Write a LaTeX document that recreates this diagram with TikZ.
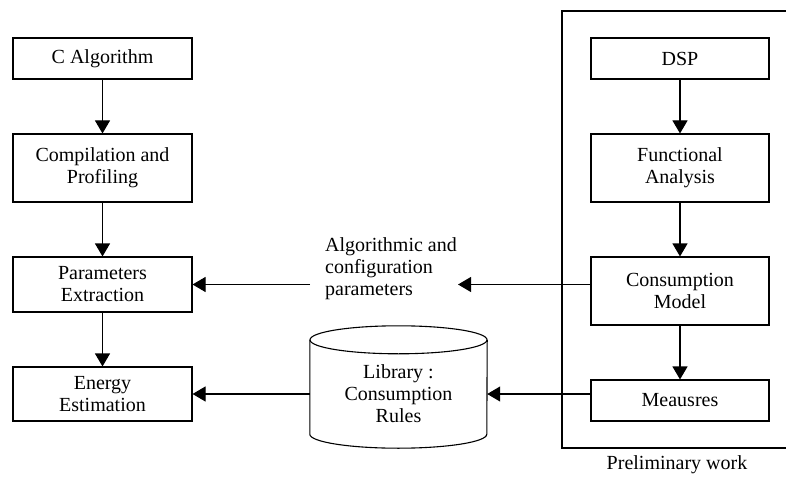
\documentclass[tikz,border=0pt]{standalone}
\usepackage{fontspec}
\setmainfont{Liberation Serif}
\usetikzlibrary{arrows.meta}

\begin{document}
\begin{tikzpicture}[x=1pt,y=-1pt]
    \pgfmathsetmacro{\lx}{102.5}	%left column
    \pgfmathsetmacro{\rx}{680}	%right column
    \tikzset{
        blk/.style={draw, line width=1.1pt, inner sep=0pt, align=center,
            font=\fontsize{20}{22}\selectfont},
        txt/.style={inner sep=0pt, font=\fontsize{20}{22}\selectfont},
        arr/.style={line width=1.1pt, -{Triangle[length=13pt,width=15pt]}}
    };
    \useasboundingbox (0,0) rectangle (786,478);

    % left column
    \node[blk, minimum width=179pt, minimum height=41pt] (ca) at (\lx,58.5) {C Algorithm};
    \node[blk, minimum width=179pt, minimum height=68pt] (cp) at (\lx,168) {Compilation and\\Profiling};
    \node[blk, minimum width=179pt, minimum height=55pt] (pe) at (\lx,284.5) {Parameters\\Extraction};
    \node[blk, minimum width=179pt, minimum height=54pt] (ee) at (\lx,394) {Energy\\Estimation};

    % right column
    \node[blk, minimum width=178pt, minimum height=41pt] (dsp) at (\rx,58.5) {DSP};
    \node[blk, minimum width=178pt, minimum height=68pt] (fa) at (\rx,168) {Functional\\Analysis};
    \node[blk, minimum width=178pt, minimum height=68pt] (cm) at (\rx,291) {Consumption\\Model};
    \node[blk, minimum width=178pt, minimum height=41pt] (ms) at (\rx,400.5) {Meausres};

    % preliminary work frame
    \coordinate (f1) at (786,11);
    \coordinate (f2) at (562,11);
    \coordinate (f3) at (562,448);
    \coordinate (f4) at (786,448);
    \draw[line width=1.1pt] (f1) -- (f2) -- (f3) -- (f4);
    \node[txt] (pw) at (677,465) {Preliminary work};

    % parameters label
    \node[txt, align=left, anchor=west] (par) at (325,269) {Algorithmic and\\configuration\\parameters};

    % library
    \node[txt, align=center, minimum width=177pt, minimum height=108pt] (lib) at (398.5,394) {Library :\\Consumption\\Rules};
    \draw[line width=1.1pt] (lib.north west) -- ([yshift=14pt]lib.south west)
        arc[start angle=180, end angle=360, x radius=88.5pt, y radius=14pt]
        -- (lib.north east);
    \draw[line width=1.1pt] (lib.north) ellipse[x radius=88.5pt, y radius=14pt];

    % arrows
    \foreach \a/\b in {ca/cp,cp/pe,pe/ee,dsp/fa,fa/cm,cm/ms}{
        \draw[arr] (\a) -- (\b);
    }
    \draw[arr] (cm.west |- pe) -- ([xshift=1pt]par.east |- pe);
    \draw[arr] ([xshift=-15pt]par.west |- pe) -- (pe.east);
    \draw[arr] (ms.west |- lib) -- (lib.east);
    \draw[arr] (lib.west) -- (ee.east);
\end{tikzpicture}
\end{document}
